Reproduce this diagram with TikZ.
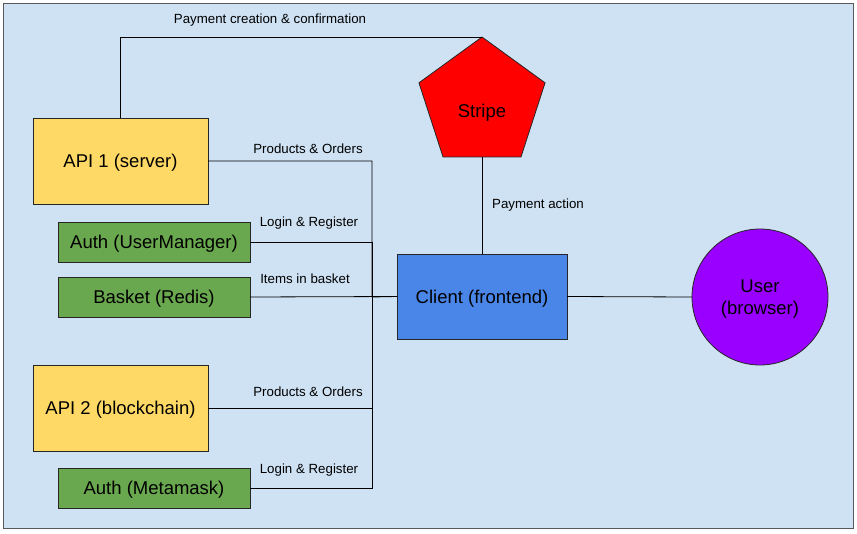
\documentclass[tikz,border=0pt]{standalone}
\usepackage{fontspec}
\setmainfont{Liberation Sans}
\usetikzlibrary{shapes.geometric}

\definecolor{bgblue}{HTML}{CFE2F3}
\definecolor{apiyellow}{HTML}{FFD966}
\definecolor{svcgreen}{HTML}{6AA84F}
\definecolor{clientblue}{HTML}{4A86E8}
\definecolor{userpurple}{HTML}{9900FF}

\begin{document}
\begin{tikzpicture}[x=1pt,y=-1pt,
  box/.style={draw=black!85,line width=0.8pt,inner sep=0pt,outer sep=0pt,
    text depth=0pt,font=\fontsize{18.5}{22}\selectfont},
  api/.style={box,fill=apiyellow,minimum width=175pt,minimum height=86pt},
  svc/.style={box,fill=svcgreen,minimum width=192pt,minimum height=40pt},
  lbl/.style={text depth=0pt,font=\fontsize{13.3}{16}\selectfont},
  link/.style={draw=black,line width=0.8pt}]
  \useasboundingbox (0,0) rectangle (857,533);
  % background
  \draw[fill=bgblue,draw=black!65,line width=0.8pt] (3,3) rectangle (853,528);

  % servers and services
  \node[api] (api1) at (120.5,161) {API 1 (server)};
  \node[svc] (authum) at (154,242) {Auth (UserManager)};
  \node[svc] (basket) at (154,297) {Basket (Redis)};
  \node[api] (api2) at (120.5,408) {API 2 (blockchain)};
  \node[svc] (authmm) at (154,488) {Auth (Metamask)};

  % client, stripe, user
  \node[box,fill=clientblue,minimum width=170pt,minimum height=85pt] (client) at (482,296.5) {Client (frontend)};
  \node[box,fill=red,shape=regular polygon,regular polygon sides=5,minimum size=132.6pt] (stripe) at (482,103.3) {};
  \node[box,draw=none] (stripetxt) at (482,111) {Stripe};
  \node[box,fill=userpurple,circle,minimum size=136pt,align=center] (user) at (760,297) {User\\(browser)};

  % bus
  \path (372,297) coordinate (bus);

  % links
  \draw[link] (api1.north) |- (stripe.corner 1);
  \draw[link] (api1.east) -| (bus) -- (client.west);
  \draw[link] (authum.east) -| (bus);
  \draw[link] (basket.east) -- (client.west);
  \draw[link] (api2.east) -| (bus);
  \draw[link] (authmm.east) -| (bus);
  \draw[link] (stripe.south) -- (client.north);
  \draw[link] (client.east) -- (user.west);

  % labels
  \node[lbl] (lblpay) at (270,19) {Payment creation \& confirmation};
  \node[lbl] (lblpo1) at (308,149) {Products \& Orders};
  \node[lbl] (lbllr1) at (309,222) {Login \& Register};
  \node[lbl] (lblitems) at (305,279) {Items in basket};
  \node[lbl] (lblpo2) at (308,392) {Products \& Orders};
  \node[lbl] (lbllr2) at (309,469) {Login \& Register};
  \node[lbl] (lblact) at (538,204) {Payment action};
\end{tikzpicture}
\end{document}
